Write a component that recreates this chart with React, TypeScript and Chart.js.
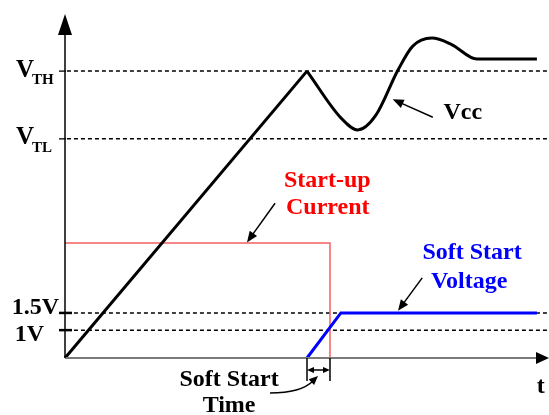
import React, { useEffect, useRef } from "react";
import { Chart, registerables } from "chart.js";

Chart.register(...registerables);

// ---- data (arbitrary schematic units) ----
const vccRamp = [
  { x: 0, y: 0 },
  { x: 5.0, y: 8.34 },
];
const vccWave = [
  { x: 5.0, y: 8.34 },
  { x: 5.7, y: 6.98 },
  { x: 6.05, y: 6.63 },
  { x: 6.42, y: 7.05 },
  { x: 6.88, y: 8.37 },
  { x: 7.18, y: 9.06 },
  { x: 7.58, y: 9.3 },
  { x: 7.98, y: 9.12 },
  { x: 8.51, y: 8.69 },
  { x: 9.75, y: 8.69 },
];
const startupCurrent = [
  { x: 0, y: 3.34 },
  { x: 5.475, y: 3.34 },
  { x: 5.475, y: 0 },
];
const softStartVoltage = [
  { x: 5.0, y: 0 },
  { x: 5.7, y: 1.31 },
  { x: 9.75, y: 1.31 },
];
const levelNames = ["VTH", "VTL", "1.5V", "1V"];
const levelValues = [8.34, 6.37, 1.31, 0.81];
const softStartTime = [5.0, 5.475];
const xRange = [0, 10];
const yRange = [0, 10];

const FONT = "'Liberation Serif', 'Times New Roman', serif";

function arrowHead(ctx: CanvasRenderingContext2D, x1: number, y1: number, x2: number, y2: number, len = 11, half = 4.5) {
  const a = Math.atan2(y2 - y1, x2 - x1);
  ctx.beginPath();
  ctx.moveTo(x2, y2);
  ctx.lineTo(x2 - len * Math.cos(a) + half * Math.sin(a), y2 - len * Math.sin(a) - half * Math.cos(a));
  ctx.lineTo(x2 - len * Math.cos(a) - half * Math.sin(a), y2 - len * Math.sin(a) + half * Math.cos(a));
  ctx.closePath();
  ctx.fill();
}

function arrow(ctx: CanvasRenderingContext2D, x1: number, y1: number, x2: number, y2: number, w = 1.5) {
  const a = Math.atan2(y2 - y1, x2 - x1);
  ctx.lineWidth = w;
  ctx.beginPath();
  ctx.moveTo(x1, y1);
  ctx.lineTo(x2 - 8 * Math.cos(a), y2 - 8 * Math.sin(a));
  ctx.stroke();
  arrowHead(ctx, x1, y1, x2, y2);
}

const overlay = {
  id: "overlay",
  afterDatasetsDraw(chart: any) {
    const ctx: CanvasRenderingContext2D = chart.ctx;
    const xs = chart.scales.x;
    const ys = chart.scales.y;
    const px = (v: number) => xs.getPixelForValue(v);
    const py = (v: number) => ys.getPixelForValue(v);
    const x0 = px(xRange[0]);
    const y0 = py(yRange[0]);
    const xEnd = px(xRange[1]);
    const yTop = py(yRange[1]);
    ctx.save();

    // x axis
    ctx.strokeStyle = "#7a7a7a";
    ctx.lineWidth = 2;
    ctx.beginPath();
    ctx.moveTo(x0, y0);
    ctx.lineTo(xEnd - 10, y0);
    ctx.stroke();
    ctx.fillStyle = "#000";
    arrowHead(ctx, x0, y0, xEnd, y0, 13, 6);

    // y axis
    ctx.strokeStyle = "#000";
    ctx.lineWidth = 1.5;
    ctx.beginPath();
    ctx.moveTo(x0, y0);
    ctx.lineTo(x0, yTop + 15);
    ctx.stroke();
    arrowHead(ctx, x0, y0, x0, yTop, 21, 7);

    // level ticks
    levelValues.forEach((v, i) => {
      const thick = i >= 2;
      ctx.lineWidth = thick ? 2.5 : 1.3;
      ctx.beginPath();
      ctx.moveTo(x0 - 6, py(v));
      ctx.lineTo(thick ? x0 + 7 : x0 + 1, py(v));
      ctx.stroke();
    });

    // level labels
    ctx.fillStyle = "#000";
    ctx.textBaseline = "middle";
    const sub = (main: string, s: string, y: number) => {
      ctx.font = `bold 25px ${FONT}`;
      ctx.textAlign = "left";
      ctx.fillText(main, 16, y);
      const w = ctx.measureText(main).width;
      ctx.font = `bold 15px ${FONT}`;
      ctx.fillText(s, 16 + w - 2, y + 10);
    };
    sub("V", levelNames[0].slice(1), py(levelValues[0]) - 1);
    sub("V", levelNames[1].slice(1), py(levelValues[1]) - 1);
    ctx.font = `bold 24px ${FONT}`;
    ctx.textAlign = "right";
    ctx.fillText(levelNames[2], x0 - 6, py(levelValues[2]) - 5);
    ctx.fillText(levelNames[3], x0 - 21, py(levelValues[3]) + 5);

    // soft start time marker
    const sa = px(softStartTime[0]);
    const sb = px(softStartTime[1]);
    ctx.strokeStyle = "#000";
    ctx.lineWidth = 1.5;
    ctx.beginPath();
    ctx.moveTo(sa, y0);
    ctx.lineTo(sa, y0 + 23);
    ctx.moveTo(sb, y0);
    ctx.lineTo(sb, y0 + 23);
    ctx.moveTo(sa + 6, y0 + 12);
    ctx.lineTo(sb - 6, y0 + 12);
    ctx.stroke();
    arrowHead(ctx, sb, y0 + 12, sa, y0 + 12, 7, 3);
    arrowHead(ctx, sa, y0 + 12, sb, y0 + 12, 7, 3);
    // curved leader
    ctx.beginPath();
    ctx.moveTo(sa - 37, y0 + 35);
    ctx.quadraticCurveTo(sa - 6, y0 + 35, sa + 6, y0 + 23);
    ctx.stroke();
    arrowHead(ctx, sa - 2, y0 + 30, sa + 11, y0 + 18, 9, 4);

    // text labels
    ctx.textAlign = "center";
    ctx.font = `bold 24px ${FONT}`;
    ctx.fillStyle = "#000";
    ctx.fillText("Soft Start", px(3.39), py(-0.64));
    ctx.fillText("Time", px(3.39), py(-1.4));
    ctx.fillText("t", px(9.83), py(-0.84));
    ctx.fillText("Vcc", px(8.22), py(7.12));
    ctx.fillStyle = "#ff0000";
    ctx.fillText("Start-up", px(5.42), py(5.15));
    ctx.fillText("Current", px(5.43), py(4.37));
    ctx.fillStyle = "#0000ff";
    ctx.fillText("Soft Start", px(8.41), py(3.05));
    ctx.fillText("Voltage", px(8.35), py(2.21));

    // pointer arrows
    ctx.fillStyle = "#000";
    ctx.strokeStyle = "#000";
    arrow(ctx, px(4.34), py(4.5), px(3.76), py(3.36));
    arrow(ctx, px(7.6), py(7.0), px(6.77), py(7.52));
    arrow(ctx, px(7.38), py(2.33), px(6.88), py(1.37));

    ctx.restore();
  },
};

export default function App() {
  const ref = useRef<HTMLCanvasElement>(null);
  useEffect(() => {
    document.body.style.margin = "0";
    const dashed = levelValues.map((v, i) => ({
      label: levelNames[i],
      data: [
        { x: xRange[0] + 0.04, y: v },
        { x: xRange[1], y: v },
      ],
      borderColor: "#000",
      borderWidth: 1.5,
      borderDash: [4, 3],
      pointRadius: 0,
      tension: 0,
      showLine: true,
    }));
    const chart = new Chart(ref.current as HTMLCanvasElement, {
      type: "scatter",
      data: {
        datasets: [
          { label: "Vcc ramp", data: vccRamp, showLine: true, borderColor: "#000", borderWidth: 3, pointRadius: 0, tension: 0 },
          { label: "Vcc", data: vccWave, showLine: true, borderColor: "#000", borderWidth: 3, pointRadius: 0, cubicInterpolationMode: "monotone", borderJoinStyle: "round" },
          { label: "Soft Start Voltage", data: softStartVoltage, showLine: true, borderColor: "#0000ff", borderWidth: 3, pointRadius: 0, tension: 0 },
          { label: "Start-up Current", data: startupCurrent, showLine: true, borderColor: "#f46060", borderWidth: 1.5, pointRadius: 0, tension: 0 },
          ...dashed,
        ] as any,
      },
      options: {
        animation: false,
        responsive: false,
        maintainAspectRatio: false,
        clip: false as any,
        layout: { padding: { left: 65, right: 0, top: 14, bottom: 57 } },
        plugins: { legend: { display: false }, tooltip: { enabled: false } },
        scales: {
          x: { type: "linear", min: xRange[0], max: xRange[1], display: false },
          y: { type: "linear", min: yRange[0], max: yRange[1], display: false },
        },
      },
      plugins: [overlay],
    });
    return () => chart.destroy();
  }, []);
  return (
    <div style={{ position: "relative", width: 549, height: 415, background: "#fff" }}>
      <canvas ref={ref} width={549} height={415} style={{ width: 549, height: 415 }} />
    </div>
  );
}
